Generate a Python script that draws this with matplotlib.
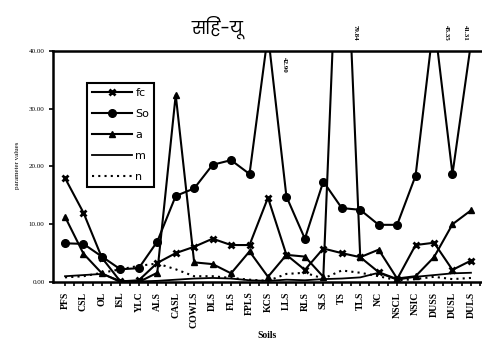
import matplotlib
matplotlib.use("Agg")
from matplotlib import pyplot as plt

# soil types on the x axis
soils = ['PFS', 'CSL', 'OL', 'ISL', 'YLC', 'ALS', 'CASL', 'COWLS', 'DLS', 'FLS', 'FPLS', 'KCS',
         'LLS', 'RLS', 'SLS', 'TS', 'TLS', 'NC', 'NSCL', 'NSIC', 'DUSS', 'DUSL', 'DULS']

fc = [18.0, 12.0, 4.2, 0.1, 0.3, 3.3, 5.0, 6.1, 7.5, 6.4, 6.4, 14.6,
      4.7, 2.1, 5.8, 5.0, 4.3, 1.7, 0.5, 6.4, 6.8, 2.1, 3.7]
So = [6.7, 6.6, 4.4, 2.2, 2.4, 7.0, 14.9, 16.2, 20.3, 21.1, 18.7, 42.90,
      14.8, 7.5, 17.4, 12.8, 12.5, 9.9, 9.9, 18.4, 45.35, 18.7, 41.31]
a = [11.3, 4.9, 1.5, 0.0, 0.0, 1.6, 32.4, 3.4, 3.1, 1.5, 5.3, 0.9,
     4.7, 4.4, 0.9, 79.84, 4.3, 5.6, 0.6, 1.0, 4.3, 10.0, 12.4]
m = [1.0, 1.2, 1.4, 0.2, 0.1, 0.2, 0.4, 0.6, 0.7, 0.6, 0.3, 0.2,
     0.4, 0.3, 0.5, 0.6, 0.8, 1.6, 0.4, 0.9, 1.2, 1.5, 1.6]
n = [0.8, 1.0, 1.6, 2.2, 2.8, 3.2, 2.2, 1.0, 1.0, 0.7, 0.4, 0.2,
     1.4, 1.6, 0.6, 2.0, 1.6, 1.0, 0.3, 0.5, 0.9, 0.5, 0.7]

fig = plt.figure(figsize=(4.82, 3.45), dpi=100)
ax = fig.add_axes([0.110, 0.1826, 0.89, 0.6696])

x = list(range(len(soils)))
ax.plot(x, fc, color='black', lw=1.5, marker='x', ms=5, mew=2, label='fc')
ax.plot(x, So, color='black', lw=1.5, marker='o', ms=5.5, label='So')
ax.plot(x, a, color='black', lw=1.5, marker='^', ms=5, label='a')
ax.plot(x, m, color='black', lw=1.3, label='m')
ax.plot(x, n, color='black', lw=1.5, ls=(0, (1, 2)), label='n')

ax.set_xlim(-0.65, 22.6)
ax.set_ylim(0, 40)
ax.set_yticks([0, 10, 20, 30, 40])
ax.set_yticklabels(['0.00', '10.00', '20.00', '30.00', '40.00'], fontsize=5,
                   family='Liberation Serif')
ax.set_xticks(x)
ax.set_xticks([i + 0.5 for i in x], minor=True)
ax.set_xticklabels(soils, rotation=90, fontsize=7, family='Liberation Serif', fontweight='bold')
ax.tick_params(axis='x', which='both', direction='out', length=3, width=1.2, pad=4)
ax.tick_params(axis='y', direction='out', length=3, width=1.2, pad=3)

for s in ['left', 'bottom', 'top']:
    ax.spines[s].set_linewidth(1.8)
ax.spines['right'].set_visible(False)

# labels for the cut off peaks
ax.text(11.9, 37.6, '42.90', rotation=-90, fontsize=5, fontweight='bold',
        family='Liberation Serif', ha='center', va='center')
ax.text(15.7, 43.2, '79.84', rotation=-90, fontsize=5, fontweight='bold',
        family='Liberation Serif', ha='center', va='center', clip_on=False)
ax.text(20.65, 43.2, '45.35', rotation=-90, fontsize=5, fontweight='bold',
        family='Liberation Serif', ha='center', va='center', clip_on=False)
ax.text(21.7, 43.2, '41.31', rotation=-90, fontsize=5, fontweight='bold',
        family='Liberation Serif', ha='center', va='center', clip_on=False)

ax.set_xlabel('Soils', fontsize=7, family='Liberation Serif', fontweight='bold', labelpad=2)
fig.text(0.037, 0.52, 'parameter values', rotation=90, fontsize=5, family='Liberation Serif',
         ha='center', va='center')

fig.text(0.452, 0.922, 'सिहं-यू', fontsize=12.5, family=['Poppins', 'DejaVu Sans'],
         ha='center', va='center')

leg = ax.legend(loc='upper left', bbox_to_anchor=(0.079, 0.862), fontsize=8,
                handlelength=3.6, labelspacing=1.0, borderpad=0.45, handletextpad=0.3,
                borderaxespad=0, fancybox=False, framealpha=1, edgecolor='black')
leg.get_frame().set_linewidth(1.5)

plt.savefig('out.png', dpi=100)
